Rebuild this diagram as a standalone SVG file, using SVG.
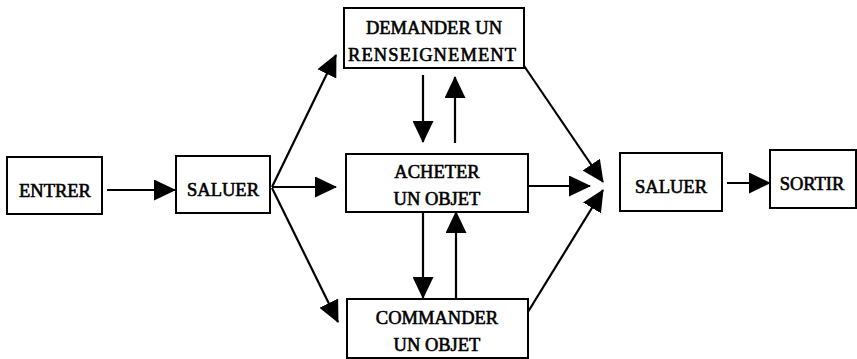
<svg xmlns="http://www.w3.org/2000/svg" width="857" height="359" viewBox="0 0 857 359">
<defs>
<marker id="ah" markerUnits="userSpaceOnUse" markerWidth="22" markerHeight="21" refX="21" refY="10.5" orient="auto" viewBox="0 0 22 21">
<path d="M0,0 L22,10.5 L0,21 z" fill="#000"/>
</marker>
<style>
.box{fill:#fff;stroke:#000;stroke-width:2}
.t{font-family:"Liberation Serif","Times New Roman",serif;font-size:18.5px;fill:#000;stroke:#000;stroke-width:0.6;text-anchor:middle}
.c{stroke:#000;stroke-width:2.2;fill:none;marker-end:url(#ah)}
</style>
</defs>
<rect width="857" height="359" fill="#fff"/>
<g id="connectors">
<path class="c" d="M107,190 L175,190"/>
<path class="c" d="M272,187 L336,55"/>
<path class="c" d="M272,187 L336,187"/>
<path class="c" d="M272,188 L338,322"/>
<path class="c" d="M423,75 L423,142"/>
<path class="c" d="M455,143 L455,77"/>
<path class="c" d="M423,212 L423,298"/>
<path class="c" d="M456,298 L456,212"/>
<path class="c" d="M520,186 L590,186"/>
<path class="c" d="M518,57 L603,182"/>
<path class="c" d="M523,320 L603,190"/>
<path class="c" d="M727,183 L770,183"/>
</g>
<g id="entrer">
<rect class="box" x="7" y="157" width="95" height="57"/>
<text class="t" x="55" y="197">ENTRER</text>
</g>
<g id="saluer1">
<rect class="box" x="176" y="156" width="94" height="57"/>
<text class="t" x="223" y="196">SALUER</text>
</g>
<g id="demander">
<rect class="box" x="344" y="8" width="180" height="60"/>
<text class="t" x="434" y="34">DEMANDER UN</text>
<text class="t" x="432" y="61" textLength="168" lengthAdjust="spacing">RENSEIGNEMENT</text>
</g>
<g id="acheter">
<rect class="box" x="346" y="154" width="182" height="58"/>
<text class="t" x="437" y="178">ACHETER</text>
<text class="t" x="437" y="205">UN OBJET</text>
</g>
<g id="commander">
<rect class="box" x="347" y="299" width="181" height="59"/>
<text class="t" x="437" y="324">COMMANDER</text>
<text class="t" x="437" y="351">UN OBJET</text>
</g>
<g id="saluer2">
<rect class="box" x="620" y="153" width="102" height="58"/>
<text class="t" x="671" y="193">SALUER</text>
</g>
<g id="sortir">
<rect class="box" x="770" y="150" width="86" height="58"/>
<text class="t" x="812" y="190">SORTIR</text>
</g>
</svg>
